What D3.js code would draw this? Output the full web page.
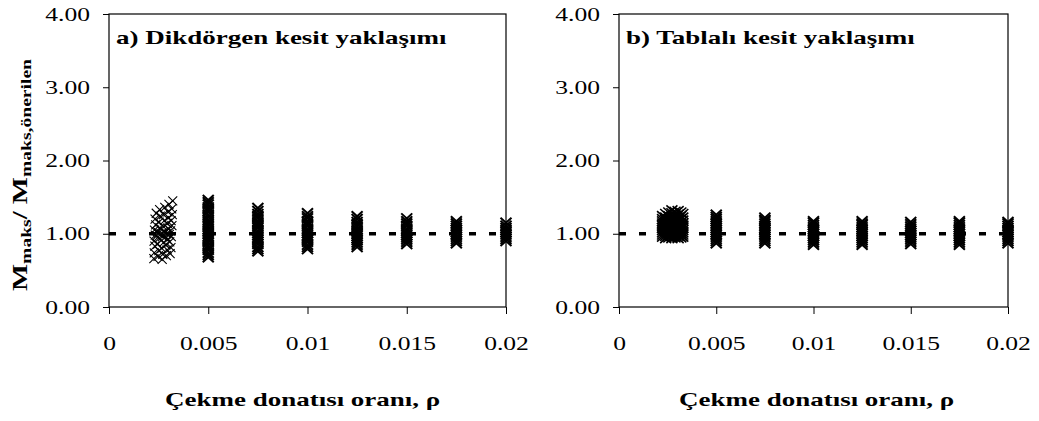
<!DOCTYPE html>
<html><head><meta charset="utf-8">
<script src="https://cdn.jsdelivr.net/npm/d3@7"></script>
<style>body{margin:0;background:#fff}svg{display:block}</style>
</head><body>
<svg id="c" width="1039" height="421"></svg>
<script>
// ---- data ----
const yTicks = [0, 1, 2, 3, 4];
const xTicks = [0, 0.005, 0.01, 0.015, 0.02];
const xTickLabels = ["0", "0.005", "0.01", "0.015", "0.02"];
const panelTitles = ["a) Dikdörgen kesit yaklaşımı", "b) Tablalı kesit yaklaşımı"];
const xTitle = "Çekme donatısı oranı, ρ";
const refValue = 1.0;

// Panel a: scattered cluster at low ρ  [ρ, M/M]
const clusterA = [
  [0.00226,0.66],[0.00228,0.74],[0.00231,0.83],[0.00227,0.90],[0.00233,0.98],[0.00229,1.05],[0.00235,1.12],[0.00232,1.20],[0.00238,1.28],
  [0.00247,0.69],[0.00251,0.77],[0.00245,0.86],[0.00253,0.94],[0.00249,1.01],[0.00256,1.08],[0.00252,1.16],[0.00258,1.24],[0.00255,1.33],
  [0.00268,0.65],[0.00271,0.72],[0.00266,0.80],[0.00274,0.88],[0.00270,0.96],[0.00277,1.03],[0.00273,1.10],[0.00279,1.18],[0.00275,1.26],[0.00281,1.36],
  [0.00289,0.70],[0.00293,0.78],[0.00287,0.85],[0.00295,0.92],[0.00291,1.00],[0.00298,1.07],[0.00294,1.14],[0.00300,1.22],[0.00297,1.30],[0.00302,1.40],
  [0.00308,0.73],[0.00312,0.81],[0.00306,0.89],[0.00314,0.96],[0.00310,1.04],[0.00317,1.11],[0.00313,1.18],[0.00319,1.26],[0.00316,1.34],[0.00321,1.45],
  [0.00240,0.97],[0.00262,1.00],[0.00284,1.02],[0.00304,0.99],[0.00244,1.03],[0.00286,0.96]
];
// Panel a: columns at fixed ρ
const columnsA = [
  {rho:0.005,  vals:[0.68,0.71,0.74,0.78,0.81,0.84,0.88,0.91,0.94,0.97,1.00,1.03,1.06,1.10,1.13,1.16,1.19,1.23,1.26,1.30,1.33,1.36,1.40,1.43,1.46]},
  {rho:0.0075, vals:[0.76,0.79,0.82,0.86,0.89,0.92,0.95,0.98,1.01,1.04,1.08,1.11,1.14,1.17,1.21,1.24,1.27,1.31,1.35]},
  {rho:0.01,   vals:[0.79,0.82,0.85,0.89,0.92,0.95,0.98,1.01,1.04,1.07,1.11,1.14,1.17,1.21,1.24,1.28]},
  {rho:0.0125, vals:[0.82,0.85,0.88,0.91,0.94,0.97,1.00,1.03,1.06,1.10,1.13,1.16,1.20,1.24]},
  {rho:0.015,  vals:[0.86,0.89,0.92,0.95,0.98,1.01,1.04,1.07,1.11,1.14,1.17,1.21]},
  {rho:0.0175, vals:[0.87,0.90,0.93,0.96,0.99,1.02,1.05,1.08,1.11,1.14,1.17]},
  {rho:0.02,   vals:[0.90,0.93,0.96,0.99,1.02,1.05,1.08,1.11,1.15]}
];
// Panel b: dense cluster at low ρ
const clusterB = [
  {rho:0.00224, vals:[0.96,0.99,1.02,1.05,1.08,1.11,1.14,1.17,1.20,1.24]},
  {rho:0.00240, vals:[0.94,0.97,1.00,1.03,1.06,1.09,1.12,1.15,1.19,1.22,1.27]},
  {rho:0.00256, vals:[0.95,0.98,1.01,1.04,1.07,1.10,1.13,1.16,1.20,1.24,1.29]},
  {rho:0.00272, vals:[0.94,0.97,1.00,1.03,1.06,1.09,1.12,1.16,1.19,1.23,1.28,1.32]},
  {rho:0.00288, vals:[0.95,0.98,1.01,1.04,1.07,1.10,1.13,1.17,1.21,1.25,1.30]},
  {rho:0.00304, vals:[0.94,0.97,1.00,1.03,1.06,1.09,1.12,1.15,1.18,1.22,1.26,1.31]},
  {rho:0.00318, vals:[0.95,0.98,1.01,1.04,1.07,1.10,1.13,1.16,1.20,1.24,1.29]},
  {rho:0.00328, vals:[0.96,0.99,1.02,1.05,1.08,1.11,1.14,1.18,1.22,1.27]}
];
// Panel b: columns at fixed ρ
const columnsB = [
  {rho:0.005,  vals:[0.87,0.90,0.93,0.96,0.99,1.02,1.05,1.08,1.11,1.14,1.17,1.20,1.23,1.26]},
  {rho:0.0075, vals:[0.87,0.90,0.93,0.96,0.99,1.02,1.05,1.08,1.11,1.14,1.17,1.19,1.22]},
  {rho:0.01,   vals:[0.85,0.88,0.91,0.94,0.97,1.00,1.03,1.06,1.09,1.12,1.15,1.17]},
  {rho:0.0125, vals:[0.85,0.88,0.91,0.94,0.97,1.00,1.03,1.06,1.09,1.12,1.14,1.17]},
  {rho:0.015,  vals:[0.86,0.89,0.92,0.95,0.98,1.01,1.04,1.07,1.10,1.13,1.16]},
  {rho:0.0175, vals:[0.85,0.88,0.91,0.94,0.97,1.00,1.03,1.06,1.09,1.12,1.15,1.17]},
  {rho:0.02,   vals:[0.87,0.90,0.93,0.96,0.99,1.02,1.05,1.08,1.11,1.14,1.16]}
];

// ---- layout ----
const FONT = "Liberation Serif";
const SX = 1.42; // horizontal glyph stretch of the original
const svg = d3.select("#c");
const yTopPx = 14, yBotPx = 307;
const panels = [
  {x0:109, x1:506, titleX:165, title:panelTitles[0], cluster:clusterA.map(d=>({rho:d[0], v:d[1]})), cols:columnsA, thin:true},
  {x0:619, x1:1008, titleX:679, title:panelTitles[1], cluster:clusterB.flatMap(c=>c.vals.map(v=>({rho:c.rho, v}))), cols:columnsB, thin:false}
];

// stretch text horizontally, keeping the requested anchor
function fit(sel, f, anchor) {
  sel.each(function(){
    const t = d3.select(this);
    const w = this.getComputedTextLength();
    const W = w * f;
    const x0 = +(t.attr("x") || 0);
    t.attr("text-anchor","start").attr("textLength", W).attr("lengthAdjust","spacingAndGlyphs");
    if (anchor === "end") t.attr("x", x0 - W);
    else if (anchor === "middle") t.attr("x", x0 - W/2);
  });
}
const xMark = (hw, hh) => `M${-hw},${-hh}L${hw},${hh}M${-hw},${hh}L${hw},${-hh}`;

panels.forEach((p) => {
  const x = d3.scaleLinear().domain([0, 0.02]).range([p.x0, p.x1]);
  const y = d3.scaleLinear().domain([0, 4]).range([yBotPx, yTopPx]);
  const g = svg.append("g");

  // y axis
  const ya = g.append("g").attr("transform", `translate(${p.x0},0)`)
    .call(d3.axisLeft(y).tickValues(yTicks).tickFormat(d3.format(".2f")).tickSize(6).tickSizeOuter(0).tickPadding(13));
  ya.attr("font-family", null).attr("font-size", null);
  ya.select(".domain").remove();
  ya.selectAll("line").attr("stroke","#000");
  ya.selectAll("text").style("font-family",FONT).style("font-size","18px").attr("fill","#000").attr("dy","0.34em").call(fit, SX, "end");

  // x axis
  const xa = g.append("g").attr("transform", `translate(0,${yBotPx})`)
    .call(d3.axisBottom(x).tickValues(xTicks).tickFormat((d,k)=>xTickLabels[k]).tickSize(7).tickSizeOuter(0).tickPadding(23));
  xa.attr("font-family", null).attr("font-size", null);
  xa.select(".domain").remove();
  xa.selectAll("line").attr("stroke","#000");
  xa.selectAll("text").style("font-family",FONT).style("font-size","18px").attr("fill","#000").call(fit, SX, "middle");

  // frame
  g.append("rect").attr("x",p.x0).attr("y",yTopPx).attr("width",p.x1-p.x0).attr("height",yBotPx-yTopPx)
    .attr("fill","none").attr("stroke","#000").attr("stroke-width",1.2);

  // reference dashed line
  g.append("line").attr("x1",x(0)).attr("x2",x(0.02)).attr("y1",y(refValue)).attr("y2",y(refValue))
    .attr("stroke","#000").attr("stroke-width",3.5).attr("stroke-dasharray","7,13");

  // cluster
  g.append("g").selectAll("path").data(p.cluster).join("path")
    .attr("transform", d=>`translate(${x(d.rho)},${y(d.v)})`)
    .attr("d", p.thin ? xMark(4.5,4.5) : xMark(5.5,5))
    .attr("fill","none").attr("stroke","#000").attr("stroke-width", p.thin ? 1.1 : 1.6);

  // columns
  const colPts = p.cols.flatMap(c => c.vals.map(v => ({rho:c.rho, v})));
  g.append("g").selectAll("path").data(colPts).join("path")
    .attr("transform", d=>`translate(${x(d.rho)},${y(d.v)})`)
    .attr("d", xMark(5.5,5))
    .attr("fill","none").attr("stroke","#000").attr("stroke-width",2);

  // panel title
  g.append("text").attr("x", p.x0+7).attr("y", 44).style("font-family",FONT).attr("font-weight","bold")
    .style("font-size","19px").attr("fill","#000").text(p.title).call(fit, SX, "start");

  // x axis title
  g.append("text").attr("x", p.titleX).attr("y", 406)
    .style("font-family",FONT).attr("font-weight","bold").style("font-size","19px").attr("fill","#000")
    .text(xTitle).call(fit, SX, "start");
});

// y axis title (rotated)
const yLen = 232;
const yt = svg.append("text").attr("transform","translate(27,175) rotate(-90)")
  .attr("x", -yLen/2).attr("text-anchor","start").attr("textLength", yLen).attr("lengthAdjust","spacingAndGlyphs")
  .style("font-family",FONT).attr("font-weight","bold").style("font-size","22px").attr("fill","#000");
yt.append("tspan").text("M");
yt.append("tspan").style("font-size","15px").attr("dy",4).text("maks");
yt.append("tspan").attr("dy",-4).text("/ M");
yt.append("tspan").style("font-size","15px").attr("dy",4).text("maks,önerilen");
</script>
</body></html>
